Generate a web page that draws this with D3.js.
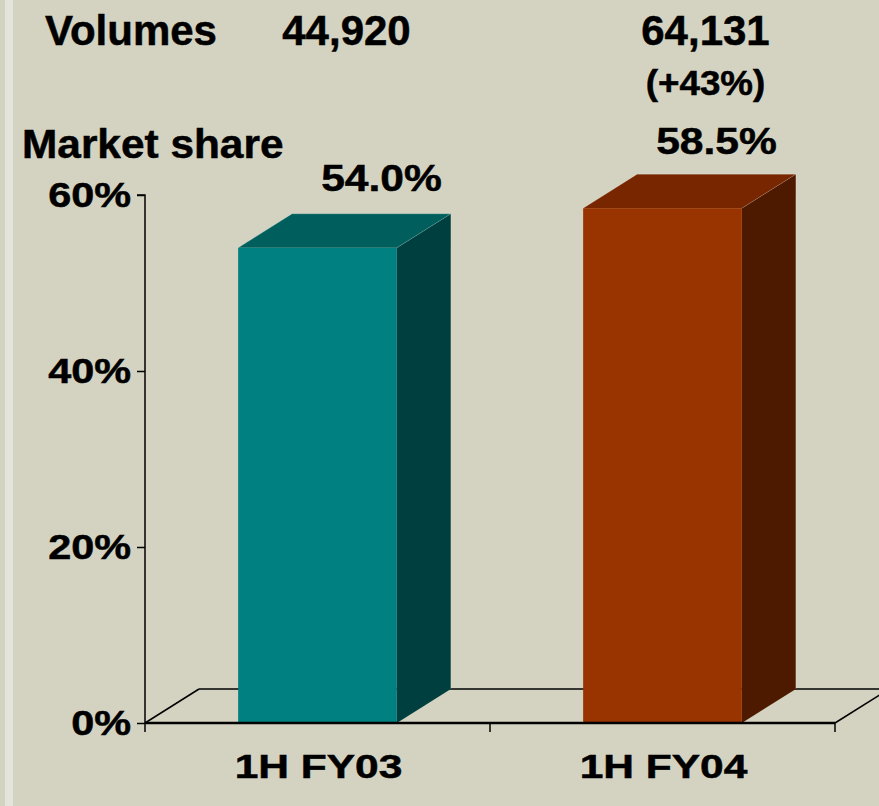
<!DOCTYPE html>
<html>
<head>
<meta charset="utf-8">
<script src="https://cdn.jsdelivr.net/npm/d3@7"></script>
<style>
  html, body { margin: 0; padding: 0; background: #d4d3c1; }
  svg { display: block; }
  text { font-family: "Liberation Sans", Arial, sans-serif; font-weight: bold; fill: #000;
         stroke: #000; stroke-width: 0.5px; }
</style>
</head>
<body>
<svg id="chart" width="879" height="806"></svg>
<script>
// data
const periods = ["1H FY03", "1H FY04"];
const marketShare = [54.0, 58.5];
const shareLabels = ["54.0%", "58.5%"];
const volumes = ["44,920", "64,131"];
const volumeGrowth = ["", "(+43%)"];
const yTicks = [0, 20, 40, 60];

// colours per bar: front, top, side
const faceColors = [
  { front: "#008080", top: "#005f5d", side: "#003f3f" },
  { front: "#993300", top: "#772600", side: "#4d1a00" }
];

const W = 879, H = 806;
const svg = d3.select("#chart");

svg.append("rect").attr("width", W).attr("height", H).attr("fill", "#d4d3c1");
svg.append("rect").attr("x", 5).attr("width", 8).attr("height", H).attr("fill", "#e5e4da");

// plot area (front plane)
const plotLeft = 145, plotRight = 835, plotBase = 723, plotTop = 195;
const dx = 54, dy = -34; // depth offset of the 3d floor

const x = d3.scaleBand().domain(periods).range([plotLeft, plotRight]).padding(0);
const y = d3.scaleLinear().domain([0, 60]).range([plotBase, plotTop]);
const barW = x.bandwidth() * 0.46;

// hand placed label nudges (as on the slide)
const valueNudge = [[10, -23], [0, -20]];
const headNudge = [2, 16];

// helper for stretched text
function label(g, str, px, py, size, sx, anchor) {
  return g.append("text")
    .attr("transform", `translate(${px},${py}) scale(${sx},1)`)
    .attr("text-anchor", anchor || "middle")
    .attr("font-size", size)
    .text(str);
}

// floor: back edge and diagonals
const floor = svg.append("g").attr("stroke", "#000").attr("fill", "none").attr("stroke-width", 1.5);
floor.append("line").attr("x1", plotLeft + dx).attr("y1", plotBase + dy).attr("x2", plotRight + dx).attr("y2", plotBase + dy);
floor.append("line").attr("x1", plotLeft).attr("y1", plotBase).attr("x2", plotLeft + dx).attr("y2", plotBase + dy);
floor.append("line").attr("x1", plotRight).attr("y1", plotBase).attr("x2", plotRight + dx).attr("y2", plotBase + dy);

// bars
const bars = svg.append("g").selectAll("g").data(periods).join("g");
bars.each(function (p, i) {
  const g = d3.select(this);
  const x0 = x(p) + (x.bandwidth() - barW) / 2;
  const x1 = x0 + barW;
  const yt = y(marketShare[i]);
  const c = faceColors[i];
  // side
  g.append("path")
    .attr("d", `M${x1},${yt}L${x1 + dx},${yt + dy}L${x1 + dx},${plotBase + dy}L${x1},${plotBase}Z`)
    .attr("fill", c.side);
  // top
  g.append("path")
    .attr("d", `M${x0},${yt}L${x0 + dx},${yt + dy}L${x1 + dx},${yt + dy}L${x1},${yt}Z`)
    .attr("fill", c.top);
  // front
  g.append("rect")
    .attr("x", x0).attr("y", yt).attr("width", barW).attr("height", plotBase - yt)
    .attr("fill", c.front);
  // faint edge highlight
  g.append("path")
    .attr("d", `M${x0},${yt}L${x0 + dx},${yt + dy}L${x1 + dx},${yt + dy}L${x1 + dx},${plotBase + dy}M${x1 + dx},${yt + dy}L${x1},${yt}`)
    .attr("fill", "none").attr("stroke", "#fff").attr("stroke-opacity", 0.18).attr("stroke-width", 1);

  // value label above the bar
  label(svg, shareLabels[i], x0 + barW / 2 + dx + valueNudge[i][0], yt + dy + valueNudge[i][1], 37, 1.15);
});

// y axis
const yAxis = d3.axisLeft(y).tickValues(yTicks).tickSize(8).tickFormat("");
const ya = svg.append("g").attr("transform", `translate(${plotLeft},0)`).call(yAxis);
ya.select(".domain").attr("stroke-width", 1.5).attr("d", `M-8,${plotTop}H0V${plotBase}`);
ya.selectAll(".tick line").attr("stroke-width", 1.5);
yTicks.forEach(t => label(svg, t + "%", 131, y(t) + 12, 36, 1.15, "end"));

// x axis (front baseline) with ticks between categories
const xTicks = [plotLeft].concat(periods.map(p => x(p) + x.bandwidth()));
svg.append("line").attr("x1", plotLeft).attr("x2", plotRight).attr("y1", plotBase).attr("y2", plotBase)
  .attr("stroke", "#000").attr("stroke-width", 2.5);
svg.append("g").selectAll("line").data(xTicks).join("line")
  .attr("x1", d => d).attr("x2", d => d).attr("y1", plotBase).attr("y2", plotBase + 9)
  .attr("stroke", "#000").attr("stroke-width", 1.5);
periods.forEach(p => label(svg, p, x(p) + x.bandwidth() / 2 + 1, 778, 34, 1.25));

// header rows
label(svg, "Volumes", 45, 45, 42, 1, "start");
label(svg, "Market share", 22, 158, 40, 1.06, "start");
periods.forEach((p, i) => {
  const cx = x(p) + x.bandwidth() / 2 + dx / 2 + headNudge[i];
  label(svg, volumes[i], cx, 45, 42, 1);
  if (volumeGrowth[i]) label(svg, volumeGrowth[i], cx, 95, 35, 1.05);
});
</script>
</body>
</html>
